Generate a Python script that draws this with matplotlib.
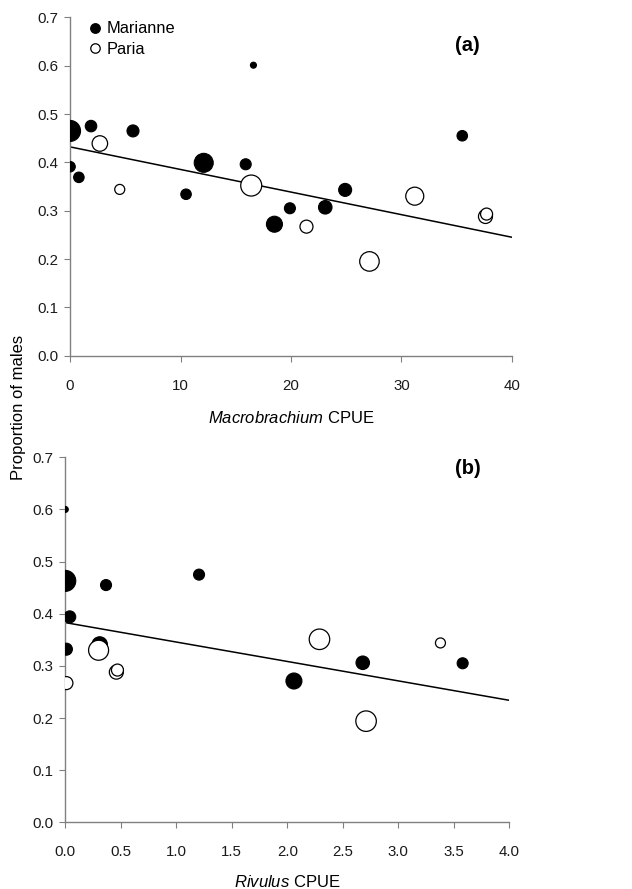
import numpy as np
import matplotlib
matplotlib.use('Agg')
import matplotlib.pyplot as plt
from matplotlib.lines import Line2D

plt.rcParams['font.family'] = ['Liberation Sans', 'DejaVu Sans']
plt.rcParams['mathtext.fontset'] = 'custom'
plt.rcParams['mathtext.rm'] = 'Liberation Sans'
plt.rcParams['mathtext.it'] = 'Liberation Sans:italic'

# (a) Macrobrachium CPUE vs proportion of males
a_mar_x = [0, 1.9, 5.7, 0, 0.8, 12.1, 15.9, 16.6, 10.5, 24.9, 35.5, 19.9, 18.5, 23.1]
a_mar_y = [0.465, 0.475, 0.465, 0.391, 0.369, 0.399, 0.396, 0.601, 0.334, 0.343, 0.455, 0.305, 0.272, 0.307]
a_mar_size = [21, 11.5, 12, 10.5, 10.5, 19, 11, 6, 10.5, 13, 10.5, 11, 16, 13.5]
a_par_x = [2.7, 4.5, 16.4, 31.2, 21.4, 27.1, 37.6, 37.7]
a_par_y = [0.439, 0.344, 0.352, 0.330, 0.267, 0.195, 0.288, 0.293]
a_par_size = [15.5, 10, 21, 18, 13, 19.5, 14, 12]
a_fit = (0.432, -0.004675)  # intercept, slope

# (b) Rivulus CPUE vs proportion of males
b_mar_x = [0, 0, 0.367, 1.205, 0.04, 0.01, 0.31, 2.06, 2.68, 3.58]
b_mar_y = [0.600, 0.463, 0.455, 0.475, 0.394, 0.332, 0.341, 0.271, 0.306, 0.305]
b_mar_size = [6, 21, 11, 11, 12, 12, 15.5, 16, 13.5, 11]
b_par_x = [0.30, 2.29, 3.38, 0.01, 0.46, 0.47, 2.71]
b_par_y = [0.330, 0.351, 0.344, 0.267, 0.288, 0.292, 0.194]
b_par_size = [20, 20.5, 10, 13, 14, 12, 20.5]
b_fit = (0.383, -0.03725)

a_xticks = [0, 10, 20, 30, 40]
b_xticks = [0.0, 0.5, 1.0, 1.5, 2.0, 2.5, 3.0, 3.5, 4.0]
yticks = [0.0, 0.1, 0.2, 0.3, 0.4, 0.5, 0.6, 0.7]

DPI = 100
fig = plt.figure(figsize=(6.32, 8.89), dpi=DPI)
ax1 = fig.add_axes([0.1108, 0.5999, 0.6993, 0.3806])
ax2 = fig.add_axes([0.1033, 0.0750, 0.7025, 0.4106])


def px2s(d):
    # marker diameter in pixels -> scatter area in pt^2
    return (np.asarray(d) * 72.0 / DPI) ** 2


def draw(ax, mx, my, ms, px_, py, ps, fit, xmax, xticks, xfmt, pad):
    ax.scatter(mx, my, s=px2s(ms), c='black', edgecolors='black', linewidths=0.8, zorder=3)
    ax.scatter(px_, py, s=px2s(ps), facecolors='white', edgecolors='black', linewidths=0.9, zorder=3)
    xx = np.array([0, xmax])
    ax.plot(xx, fit[0] + fit[1] * xx, color='black', lw=1.1, zorder=2)
    ax.set_xlim(0, xmax)
    ax.set_ylim(0, 0.7)
    ax.set_xticks(xticks)
    ax.set_xticklabels([xfmt.format(v) for v in xticks])
    ax.set_yticks(yticks)
    ax.set_yticklabels(['{:.1f}'.format(v) for v in yticks])
    for s in ['top', 'right']:
        ax.spines[s].set_visible(False)
    for s in ['left', 'bottom']:
        ax.spines[s].set_color('#808080')
        ax.spines[s].set_linewidth(1.0)
    ax.tick_params(axis='both', direction='out', length=4, color='#808080',
                   labelsize=10.8, labelcolor='#1a1a1a')
    ax.tick_params(axis='x', pad=pad)
    ax.tick_params(axis='y', pad=4.5)


draw(ax1, a_mar_x, a_mar_y, a_mar_size, a_par_x, a_par_y, a_par_size, a_fit,
     40, a_xticks, '{:d}', 13)
draw(ax2, b_mar_x, b_mar_y, b_mar_size, b_par_x, b_par_y, b_par_size, b_fit,
     4.0, b_xticks, '{:.1f}', 12)

ax1.set_xlabel(r'$\it{Macrobrachium}$ CPUE', fontsize=12, labelpad=12)
ax2.set_xlabel(r'$\it{Rivulus}$ CPUE', fontsize=12, labelpad=11)

ax1.text(0.90, 0.916, '(a)', transform=ax1.transAxes, fontsize=14.5,
         fontweight='bold', ha='center', va='center')
ax2.text(0.907, 0.970, '(b)', transform=ax2.transAxes, fontsize=14.5,
         fontweight='bold', ha='center', va='center')

fig.text(0.029, 1 - 407 / 889, 'Proportion of males', rotation=90,
         ha='center', va='center', fontsize=12)

handles = [
    Line2D([], [], ls='none', marker='o', markersize=6.8, markerfacecolor='black',
           markeredgecolor='black', label='Marianne'),
    Line2D([], [], ls='none', marker='o', markersize=6.8, markerfacecolor='white',
           markeredgecolor='black', markeredgewidth=0.9, label='Paria'),
]
ax1.legend(handles=handles, loc='upper left', bbox_to_anchor=(0.041, 0.988),
           frameon=False, fontsize=11.8, borderpad=0, borderaxespad=0,
           handlelength=0.8, handletextpad=0.3, labelspacing=0.32)

fig.savefig('out.png', dpi=DPI)
